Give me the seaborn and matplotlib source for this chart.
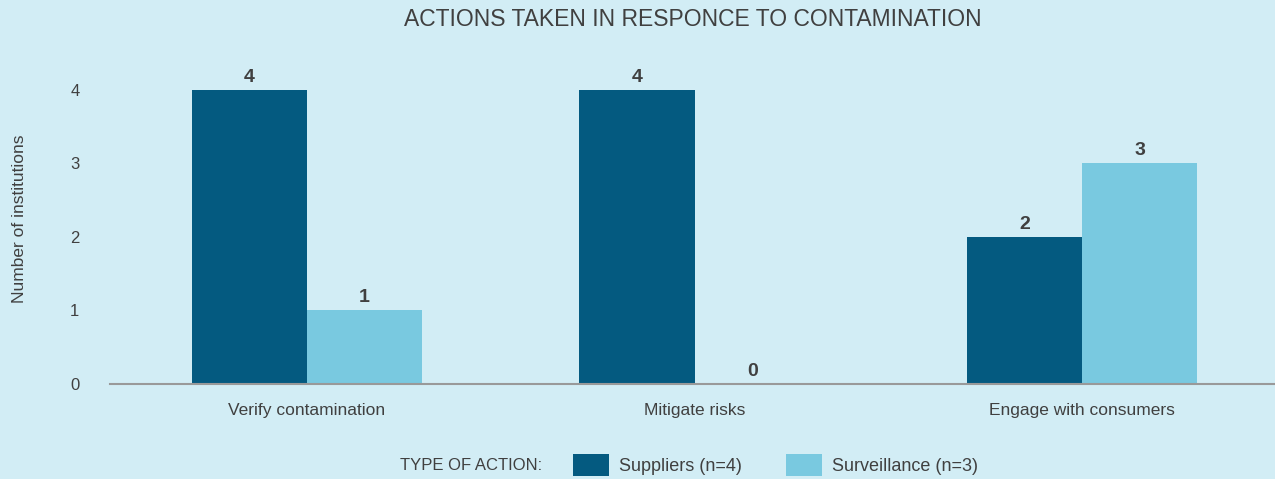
import matplotlib
matplotlib.use("Agg")
import matplotlib.pyplot as plt
import seaborn as sns
import pandas as pd

# Data
categories = ["Verify contamination", "Mitigate risks", "Engage with consumers"]
series_names = ["Suppliers (n=4)", "Surveillance (n=3)"]
suppliers = [4, 4, 2]
surveillance = [1, 0, 3]
yticks = [0, 1, 2, 3, 4]

title = "ACTIONS TAKEN IN RESPONCE TO CONTAMINATION"
ylabel = "Number of institutions"
legend_title = "TYPE OF ACTION:"

BG = "#D2EDF5"
DARK = "#045A80"
LIGHT = "#79C9E0"
TEXT = "#404040"

sns.set_theme(style="white")
plt.rcParams["font.family"] = ["Liberation Sans", "DejaVu Sans"]

df = pd.DataFrame({
    "category": categories * 2,
    "series": [series_names[0]] * 3 + [series_names[1]] * 3,
    "value": suppliers + surveillance,
})

fig = plt.figure(figsize=(12.75, 4.79), dpi=100, facecolor=BG)
ax = fig.add_axes([110 / 1275, 95 / 479, (1274 - 110) / 1275, (384 - 53) / 479])
ax.set_facecolor(BG)

sns.barplot(data=df, x="category", y="value", hue="series",
            palette=[DARK, LIGHT], width=0.595, gap=0, saturation=1,
            edgecolor="none", linewidth=0, ax=ax, legend=True)

for cont in ax.containers:
    ax.bar_label(cont, fmt="%d", padding=3, fontsize=14, fontweight="bold",
                 color=TEXT)

ax.set_xlim(-0.508, 2.495)
ax.set_ylim(0, 4.5)
ax.set_yticks(yticks)
ax.tick_params(axis="y", length=0, pad=22, labelsize=12, labelcolor=TEXT)
ax.tick_params(axis="x", length=0, pad=14, labelsize=12.5, labelcolor=TEXT)
ax.set_xlabel("")
ax.set_ylabel(ylabel, fontsize=12.5, color=TEXT)
ax.yaxis.set_label_coords(-0.071, 0.5)

for s in ["top", "right", "left"]:
    ax.spines[s].set_visible(False)
ax.spines["bottom"].set_color("#999999")
ax.spines["bottom"].set_linewidth(1.5)

fig.text(0.543, 1 - 19 / 479, title, ha="center", va="center",
         fontsize=16.5, color=TEXT)

handles, labels = ax.get_legend_handles_labels()
ax.legend_.remove()
fig.legend(handles, labels, loc="center left",
           bbox_to_anchor=(557 / 1275, 1 - 465 / 479), ncol=2, frameon=False,
           fontsize=13, handlelength=2.0, handleheight=1.5,
           handletextpad=0.55, columnspacing=2.4, labelcolor=TEXT)
fig.text(400 / 1275, 1 - 465 / 479, legend_title, ha="left", va="center",
         fontsize=12, color=TEXT)

fig.savefig("out.png", dpi=100, facecolor=BG)
